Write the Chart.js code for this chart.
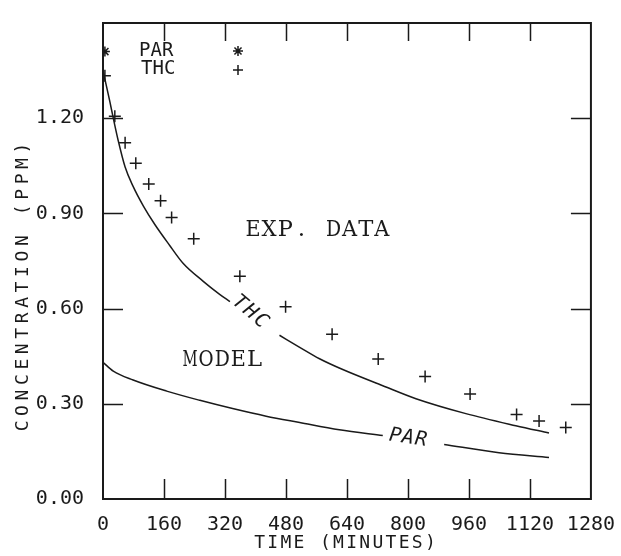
<!DOCTYPE html>
<html>
<head>
<meta charset="utf-8">
<script src="https://cdn.jsdelivr.net/npm/chart.js@4/dist/chart.umd.min.js"></script>
<style>
html, body { margin: 0; padding: 0; background: #fff; }
#wrap { width: 621px; height: 556px; position: relative; }
</style>
</head>
<body>
<div id="wrap"><canvas id="decayChart"></canvas></div>
<script>
const timeTicks = [0, 160, 320, 480, 640, 800, 960, 1120, 1280];
const concTicks = [0, 0.3, 0.6, 0.9, 1.2];

// measured concentrations
const thcTimes = [5, 31, 58, 86, 120, 151, 180, 238, 359, 479, 601, 722, 845, 963, 1085, 1144, 1214];
const thcValues = [1.334, 1.206, 1.123, 1.058, 0.993, 0.940, 0.887, 0.820, 0.702, 0.606, 0.519, 0.441, 0.386, 0.331, 0.266, 0.246, 0.225];
const parTimes = [5];
const parValues = [1.41];

// model curves; null leaves a break where the curve name sits
const thcModelTimes = [0, 18, 27, 40, 58, 79, 106, 136, 175, 210, 263, 306, 333, 400, 463, 516, 568, 629, 734, 821, 952, 1083, 1170];
const thcModelValues = [1.35, 1.252, 1.20, 1.129, 1.046, 0.985, 0.923, 0.865, 0.799, 0.743, 0.686, 0.645, 0.622, null, 0.516, 0.478, 0.442, 0.408, 0.357, 0.316, 0.269, 0.231, 0.208];
const parModelTimes = [0, 27, 79, 167, 254, 340, 428, 516, 620, 734, 810, 895, 1039, 1170];
const parModelValues = [0.431, 0.403, 0.375, 0.340, 0.311, 0.285, 0.261, 0.241, 0.218, 0.200, null, 0.172, 0.146, 0.131];

const toPoints = (xs, ys) => xs.map((x, i) => ({ x: x, y: ys[i] }));

const INK = '#1a1a1a';
const MONO = '"DejaVu Sans Mono", monospace';
const SERIF = '"DejaVu Serif", "Liberation Serif", serif';

function spacedText(ctx, text, cx, cy, spacing) {
    ctx.letterSpacing = spacing + 'px';
    const w = ctx.measureText(text).width - spacing;
    ctx.textAlign = 'left';
    ctx.fillText(text, cx - w / 2, cy);
    ctx.letterSpacing = '0px';
}

// typewriter-style: every glyph sits in a fixed-width cell
function typedText(ctx, text, left, cy, cell) {
    ctx.textAlign = 'center';
    [...text].forEach((ch, i) => {
        if (ch === ' ') return;
        const w = ctx.measureText(ch).width;
        const sx = Math.min(1, (cell - 1) / w);
        ctx.save();
        ctx.translate(left + cell * (i + 0.5), cy);
        ctx.scale(sx, 1);
        ctx.fillText(ch, 0, 0);
        ctx.restore();
    });
}

const framePlugin = {
    id: 'frame',
    afterDraw(chart) {
        const ctx = chart.ctx;
        const a = chart.chartArea;
        const xs = chart.scales.x;
        const ys = chart.scales.y;
        ctx.save();
        ctx.strokeStyle = INK;
        ctx.lineWidth = 2;
        ctx.strokeRect(a.left, a.top, a.right - a.left, a.bottom - a.top);

        // inward tick marks on all four sides
        ctx.lineWidth = 1.5;
        ctx.beginPath();
        timeTicks.forEach(v => {
            if (v <= xs.min || v >= xs.max) return;
            const px = Math.round(xs.getPixelForValue(v)) + 0.5;
            ctx.moveTo(px, a.bottom); ctx.lineTo(px, a.bottom - 20);
            ctx.moveTo(px, a.top); ctx.lineTo(px, a.top + 18);
        });
        concTicks.forEach(v => {
            if (v <= ys.min || v >= ys.max) return;
            const py = Math.round(ys.getPixelForValue(v)) + 0.5;
            ctx.moveTo(a.left, py); ctx.lineTo(a.left + 20, py);
            ctx.moveTo(a.right, py); ctx.lineTo(a.right - 20, py);
        });
        ctx.stroke();

        ctx.fillStyle = INK;
        ctx.textBaseline = 'middle';

        // axis titles
        ctx.font = '18px ' + MONO;
        spacedText(ctx, 'TIME (MINUTES)', 345, 543, 2.3);
        ctx.save();
        ctx.translate(23.5, 287);
        ctx.rotate(-Math.PI / 2);
        spacedText(ctx, 'CONCENTRATION (PPM)', 0, 0, 4.6);
        ctx.restore();

        // key
        ctx.font = '19px ' + MONO;
        ctx.textAlign = 'left';
        ctx.fillText('PAR', 139, 51);
        ctx.fillText('THC', 141, 69);
        ctx.strokeStyle = INK;
        Chart.helpers.drawPoint(ctx, { pointStyle: 'star', radius: 5, rotation: 0, borderWidth: 2 }, 238, 51);
        Chart.helpers.drawPoint(ctx, { pointStyle: 'cross', radius: 5, rotation: 0, borderWidth: 1.5 }, 238, 70);

        // annotations
        ctx.font = '23px ' + SERIF;
        ctx.textBaseline = 'alphabetic';
        typedText(ctx, 'EXP. DATA', 245, 236, 16.1);
        typedText(ctx, 'MODEL', 182, 366, 16.1);
        ctx.textBaseline = 'middle';

        ctx.font = 'italic 20px ' + MONO;
        ctx.save();
        ctx.translate(250, 312);
        ctx.rotate(40 * Math.PI / 180);
        spacedText(ctx, 'THC', 0, 0, 2);
        ctx.restore();
        ctx.save();
        ctx.translate(408, 438);
        ctx.rotate(8 * Math.PI / 180);
        spacedText(ctx, 'PAR', 0, 0, 1);
        ctx.restore();
        ctx.restore();
    }
};

new Chart(document.getElementById('decayChart').getContext('2d'), {
    type: 'line',
    data: {
        datasets: [
            {
                label: 'THC model',
                data: toPoints(thcModelTimes, thcModelValues),
                borderColor: INK,
                borderWidth: 1.5,
                pointRadius: 0,
                cubicInterpolationMode: 'monotone',
                spanGaps: false,
                fill: false
            },
            {
                label: 'PAR model',
                data: toPoints(parModelTimes, parModelValues),
                borderColor: INK,
                borderWidth: 1.5,
                pointRadius: 0,
                cubicInterpolationMode: 'monotone',
                spanGaps: false,
                fill: false
            },
            {
                label: 'THC',
                type: 'scatter',
                data: toPoints(thcTimes, thcValues),
                pointStyle: 'cross',
                pointRadius: 6,
                borderColor: INK,
                borderWidth: 1.5
            },
            {
                label: 'PAR',
                type: 'scatter',
                data: toPoints(parTimes, parValues),
                pointStyle: 'star',
                pointRadius: 5,
                borderColor: INK,
                borderWidth: 1.5
            }
        ]
    },
    options: {
        responsive: true,
        maintainAspectRatio: false,
        animation: false,
        layout: { padding: { left: 0, top: 13, right: 29, bottom: 0 } },
        plugins: {
            legend: { display: false },
            tooltip: { enabled: false }
        },
        scales: {
            x: {
                type: 'linear',
                min: 0,
                max: 1280,
                grid: { display: false },
                border: { display: false },
                afterBuildTicks: s => { s.ticks = timeTicks.map(v => ({ value: v })); },
                afterFit: s => { s.height = 57; },
                ticks: {
                    padding: 6,
                    color: INK,
                    maxRotation: 0,
                    autoSkip: false,
                    font: { family: MONO, size: 20 },
                    callback: v => String(v)
                }
            },
            y: {
                type: 'linear',
                min: 0,
                max: 1.5,
                grid: { display: false },
                border: { display: false },
                afterBuildTicks: s => { s.ticks = concTicks.map(v => ({ value: v })); },
                afterFit: s => { s.width = 103; },
                ticks: {
                    padding: 11,
                    color: INK,
                    font: { family: MONO, size: 20 },
                    callback: v => Number(v).toFixed(2)
                }
            }
        }
    },
    plugins: [framePlugin]
});
</script>
</body>
</html>
